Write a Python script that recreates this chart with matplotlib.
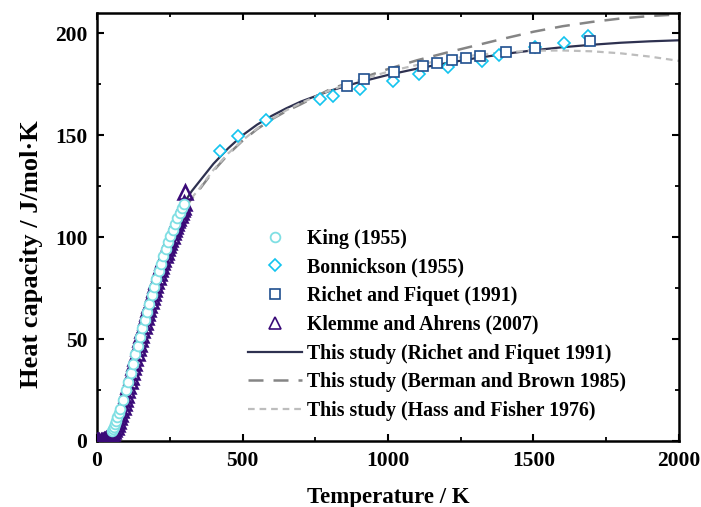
import matplotlib
matplotlib.use("Agg")
import matplotlib.pyplot as plt
from matplotlib.ticker import MultipleLocator

plt.rcParams['font.family'] = ['Liberation Serif', 'DejaVu Serif']
plt.rcParams['font.weight'] = 'bold'

# King (1955)
king_t = [52, 55, 58, 62, 66, 70, 75, 80, 90, 100, 108, 116, 124, 132, 140, 148,
          156, 164, 172, 180, 188, 196, 204, 212, 220, 228, 236, 244, 252, 260,
          268, 276, 284, 292, 298]
king_cp = [4.8, 5.8, 7.0, 8.4, 10.0, 11.6, 13.6, 15.6, 20.0, 24.8, 29.0, 33.5, 38.0,
           42.5, 46.8, 51.0, 55.2, 59.4, 63.4, 67.4, 71.4, 75.4, 79.4, 83.3, 87.0,
           90.6, 94.0, 97.4, 100.6, 103.6, 106.5, 109.3, 111.9, 114.4, 116.2]

# Bonnickson (1955)
bonn_t = [421, 483, 581, 766, 811, 904, 1016, 1107, 1207, 1324, 1381, 1504, 1604, 1688]
bonn_cp = [142.2, 149.5, 157.7, 167.6, 169.2, 172.5, 176.8, 179.9, 183.5, 186.6,
           189.5, 193.2, 195.4, 198.7]

# Richet and Fiquet (1991)
rf_t = [859, 919, 1022, 1121, 1170, 1220, 1269, 1316, 1405, 1504, 1694]
rf_cp = [174.4, 177.4, 181.0, 184.0, 185.6, 186.7, 187.9, 188.7, 190.8, 193.0, 196.2]

# Klemme and Ahrens (2007)
ka_t = [0, 4, 8, 12, 16, 20, 24, 28, 32, 36, 40, 44, 48, 52, 56, 60, 64, 68, 72, 76,
        80, 84, 88, 92, 96, 100, 104, 108, 112, 116, 120, 124, 128, 132, 136, 140,
        144, 148, 152, 156, 160, 164, 168, 172, 176, 180, 184, 188, 192, 196, 200,
        204, 208, 212, 216, 220, 224, 228, 232, 236, 240, 244, 248, 252, 256, 260,
        264, 268, 272, 276, 280, 284, 288, 292, 296, 300, 304]
ka_cp = [0, 0, 0.02, 0.05, 0.1, 0.2, 0.35, 0.55, 0.8, 1.1, 1.5, 2.0, 3.0, 3.8, 4.8,
         5.9, 7.1, 8.5, 10.0, 11.6, 13.3, 15.0, 16.8, 18.7, 20.7, 22.8, 24.9, 27.1,
         29.3, 31.6, 33.9, 36.2, 38.5, 40.8, 43.1, 45.4, 47.6, 49.9, 52.1, 54.3, 56.5,
         58.6, 60.6, 62.6, 64.6, 66.6, 68.6, 70.7, 72.7, 74.7, 76.7, 78.6, 80.5, 82.4,
         84.2, 86.0, 87.8, 89.5, 91.2, 92.9, 94.5, 96.1, 97.7, 99.2, 100.8, 102.3,
         103.8, 105.3, 106.8, 108.2, 109.6, 111.0, 112.3, 113.6, 114.9, 117.0, 122.0]

# model curves
fit_t = [300, 325, 350, 400, 450, 500, 550, 600, 650, 700, 800, 900, 1000, 1100,
         1200, 1300, 1400, 1500, 1600, 1700, 1800, 1900, 2000]
rf_fit = [117.0, 122.5, 127.0, 136.0, 143.5, 150.0, 155.2, 159.5, 163.2, 166.5, 171.8,
          176.0, 179.6, 182.7, 185.4, 187.8, 189.9, 191.7, 193.2, 194.4, 195.4, 196.1, 196.6]
bb_fit = [114.0, 118.8, 123.0, 132.5, 140.5, 147.3, 153.0, 157.8, 161.8, 165.2, 172.5,
          177.6, 182.5, 186.8, 190.5, 194.0, 197.5, 200.8, 203.5, 205.6, 207.3, 208.5, 209.3]
hf_fit = [114.5, 119.2, 123.5, 133.0, 141.0, 147.5, 153.3, 158.0, 162.2, 165.8, 172.0,
          177.0, 181.2, 184.5, 187.2, 189.3, 190.7, 191.5, 191.6, 191.2, 190.2, 188.6, 186.5]

fig = plt.figure(figsize=(7.01, 5.07), dpi=100)
ax = fig.add_axes([0.1384, 0.1302, 0.8302, 0.8442])

ax.plot(fit_t, rf_fit, color='#2e3150', lw=1.6, zorder=2,
        label='This study (Richet and Fiquet 1991)')
ax.plot(fit_t, bb_fit, color='#858585', lw=1.8, dashes=(6, 4), zorder=2,
        label='This study (Berman and Brown 1985)')
ax.plot(fit_t, hf_fit, color='#bdbdbd', lw=1.6, dashes=(3, 2.2), zorder=2,
        label='This study (Hass and Fisher 1976)')

ax.plot(ka_t, ka_cp, ls='none', marker='^', ms=9.5, mfc='none', mec='#3a0a78',
        mew=1.8, zorder=3, label='Klemme and Ahrens (2007)')
ax.plot(king_t, king_cp, ls='none', marker='o', ms=7.0, mfc='white', mec='#7fdfe3',
        mew=1.3, zorder=4, label='King (1955)')
ax.plot(bonn_t, bonn_cp, ls='none', marker='D', ms=6.6, mfc='white', mec='#12c4ef',
        mew=1.2, zorder=4, label='Bonnickson (1955)')
ax.plot(rf_t, rf_cp, ls='none', marker='s', ms=7.2, mfc='white', mec='#1f4f8f',
        mew=1.2, zorder=5, label='Richet and Fiquet (1991)')

ax.set_xlim(0, 2000)
ax.set_ylim(0, 210)
ax.xaxis.set_major_locator(MultipleLocator(500))
ax.xaxis.set_minor_locator(MultipleLocator(250))
ax.yaxis.set_major_locator(MultipleLocator(50))
ax.yaxis.set_minor_locator(MultipleLocator(25))
ax.tick_params(which='both', direction='in', top=True, right=True, labelsize=15.5)
ax.tick_params(which='major', length=5, width=1.5, pad=7)
ax.tick_params(which='minor', length=3, width=1.3)
for s in ax.spines.values():
    s.set_linewidth(1.8)

ax.set_xlabel('Temperature / K', fontsize=16.5, fontweight='bold', labelpad=12)
ax.set_ylabel('Heat capacity / J/mol·K', fontsize=19, fontweight='bold')
ax.yaxis.set_label_coords(-0.093, 0.437)

h, l = ax.get_legend_handles_labels()
order = [4, 5, 6, 3, 0, 1, 2]
leg = ax.legend([h[i] for i in order], [l[i] for i in order], loc='upper left',
                bbox_to_anchor=(0.354, 0.549), bbox_transform=fig.transFigure,
                frameon=False, fontsize=14.3, handlelength=2.7, handletextpad=0.25,
                labelspacing=0.44, borderpad=0, borderaxespad=0)
for lh in leg.legend_handles:
    if lh.get_marker() == '^':
        lh.set_markersize(8)
        lh.set_markeredgewidth(1.2)

fig.savefig('out.png', dpi=100)
